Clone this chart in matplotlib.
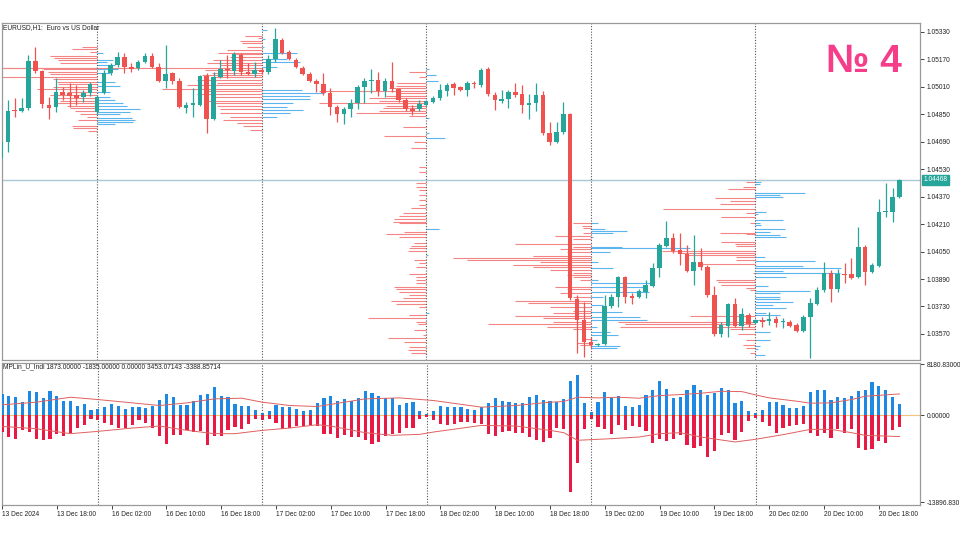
import numpy as np
import matplotlib
matplotlib.use("Agg")
import matplotlib.pyplot as plt
import matplotlib.transforms as mtransforms

plt.rcParams['font.family'] = ['Liberation Sans', 'DejaVu Sans']

# ---- EURUSD H1, 13 Dec 2024 10:00 .. 20 Dec 2024 21:00 (132 bars) ----
opens = [1.04595, 1.04688, 1.04875, 1.04869, 1.04887, 1.05160, 1.05102, 1.04904, 1.04892, 1.04980,
         1.04974, 1.04962, 1.04951, 1.04974, 1.04863, 1.04974, 1.05091, 1.05137, 1.05184, 1.05125,
         1.05120, 1.05155, 1.05190, 1.05125, 1.05044, 1.05091, 1.05044, 1.04887, 1.04904, 1.04904,
         1.05073, 1.04823, 1.05067, 1.05114, 1.05102, 1.05195, 1.05096, 1.05085, 1.05108, 1.05096,
         1.05172, 1.05283, 1.05213, 1.05166, 1.05120, 1.05085, 1.05044, 1.05026, 1.04974, 1.04892,
         1.04852, 1.04881, 1.04916, 1.05009, 1.05044, 1.05050, 1.04986, 1.05044, 1.04997, 1.04933,
         1.04881, 1.04881, 1.04904, 1.04921, 1.04945, 1.04986, 1.05026, 1.05009, 1.04991, 1.05032,
         1.05021, 1.05114, 1.04962, 1.04927, 1.04939, 1.04980, 1.04968, 1.04904, 1.04916, 1.04962,
         1.04741, 1.04688, 1.04747, 1.04852, 1.03773, 1.03651, 1.03523, 1.03505, 1.03511, 1.03733,
         1.03785, 1.03902, 1.03791, 1.03785, 1.03814, 1.03849, 1.03954, 1.04082, 1.04129, 1.04059,
         1.04036, 1.03937, 1.03989, 1.03960, 1.03797, 1.03570, 1.03616, 1.03744, 1.03616, 1.03680,
         1.03634, 1.03651, 1.03645, 1.03657, 1.03640, 1.03640, 1.03622, 1.03587, 1.03669, 1.03744,
         1.03826, 1.03925, 1.03832, 1.03919, 1.03919, 1.03902, 1.04076, 1.03931, 1.03966, 1.04280,
         1.04280, 1.04368]
highs = [1.04741, 1.04933, 1.04945, 1.04945, 1.05195, 1.05242, 1.05108, 1.04951, 1.05061, 1.05009,
         1.05032, 1.05021, 1.04991, 1.05038, 1.04962, 1.05108, 1.05149, 1.05213, 1.05207, 1.05149,
         1.05166, 1.05207, 1.05207, 1.05149, 1.05254, 1.05096, 1.05061, 1.04921, 1.05003, 1.05079,
         1.05091, 1.05096, 1.05166, 1.05195, 1.05213, 1.05207, 1.05149, 1.05155, 1.05120, 1.05195,
         1.05353, 1.05295, 1.05225, 1.05178, 1.05131, 1.05096, 1.05056, 1.05091, 1.05003, 1.04904,
         1.04892, 1.04939, 1.05021, 1.05061, 1.05114, 1.05096, 1.05061, 1.05155, 1.05003, 1.04945,
         1.04904, 1.04933, 1.04933, 1.04957, 1.05026, 1.05032, 1.05038, 1.05015, 1.05044, 1.05044,
         1.05120, 1.05125, 1.04980, 1.04991, 1.04991, 1.05032, 1.05021, 1.04968, 1.05032, 1.04986,
         1.04805, 1.04805, 1.04921, 1.04857, 1.03797, 1.03756, 1.03552, 1.03517, 1.03797, 1.03803,
         1.03907, 1.03907, 1.03808, 1.03832, 1.03884, 1.03983, 1.04100, 1.04228, 1.04158, 1.04158,
         1.04088, 1.04146, 1.04071, 1.03972, 1.03849, 1.03640, 1.03750, 1.03779, 1.03721, 1.03692,
         1.03657, 1.03669, 1.03698, 1.03674, 1.03663, 1.03651, 1.03634, 1.03680, 1.03779, 1.03843,
         1.03989, 1.03942, 1.03948, 1.03983, 1.04012, 1.04193, 1.04088, 1.03983, 1.04356, 1.04449,
         1.04420, 1.04470]
lows = [1.04584, 1.04630, 1.04834, 1.04863, 1.04875, 1.05091, 1.04887, 1.04823, 1.04863, 1.04933,
        1.04892, 1.04904, 1.04921, 1.04957, 1.04852, 1.04968, 1.05079, 1.05125, 1.05091, 1.05096,
        1.05108, 1.05149, 1.05120, 1.05038, 1.05003, 1.05026, 1.04887, 1.04857, 1.04834, 1.04898,
        1.04741, 1.04817, 1.05061, 1.05061, 1.05079, 1.05079, 1.05079, 1.05067, 1.05085, 1.05085,
        1.05155, 1.05201, 1.05166, 1.05120, 1.05079, 1.05038, 1.04980, 1.04962, 1.04846, 1.04805,
        1.04793, 1.04834, 1.04881, 1.04916, 1.04974, 1.04957, 1.04951, 1.04980, 1.04921, 1.04869,
        1.04846, 1.04869, 1.04898, 1.04916, 1.04933, 1.04957, 1.04962, 1.04986, 1.04957, 1.05003,
        1.05009, 1.04957, 1.04875, 1.04916, 1.04887, 1.04951, 1.04857, 1.04823, 1.04869, 1.04729,
        1.04671, 1.04683, 1.04735, 1.03768, 1.03459, 1.03436, 1.03488, 1.03500, 1.03505, 1.03721,
        1.03727, 1.03750, 1.03744, 1.03779, 1.03779, 1.03843, 1.03902, 1.04076, 1.04041, 1.03972,
        1.03931, 1.03855, 1.03942, 1.03785, 1.03558, 1.03552, 1.03552, 1.03610, 1.03593, 1.03610,
        1.03628, 1.03610, 1.03622, 1.03610, 1.03605, 1.03610, 1.03581, 1.03581, 1.03430, 1.03738,
        1.03814, 1.03756, 1.03814, 1.03867, 1.03890, 1.03896, 1.03855, 1.03925, 1.03960, 1.04251,
        1.04222, 1.04362]
closes = [1.04688, 1.04869, 1.04869, 1.04887, 1.05160, 1.05102, 1.04910, 1.04887, 1.04980, 1.04962,
          1.04957, 1.04945, 1.04974, 1.05026, 1.04951, 1.05091, 1.05137, 1.05184, 1.05125, 1.05114,
          1.05155, 1.05190, 1.05125, 1.05044, 1.05085, 1.05044, 1.04892, 1.04904, 1.04916, 1.05073,
          1.04823, 1.05067, 1.05114, 1.05108, 1.05201, 1.05096, 1.05085, 1.05108, 1.05096, 1.05172,
          1.05289, 1.05207, 1.05172, 1.05125, 1.05085, 1.05044, 1.05026, 1.04974, 1.04892, 1.04852,
          1.04881, 1.04916, 1.05009, 1.05044, 1.05050, 1.04986, 1.05044, 1.04997, 1.04933, 1.04881,
          1.04869, 1.04910, 1.04927, 1.04945, 1.04991, 1.05021, 1.05003, 1.04991, 1.05032, 1.05026,
          1.05108, 1.04968, 1.04933, 1.04939, 1.04980, 1.04962, 1.04904, 1.04916, 1.04962, 1.04741,
          1.04688, 1.04747, 1.04852, 1.03779, 1.03651, 1.03523, 1.03505, 1.03511, 1.03733, 1.03785,
          1.03902, 1.03785, 1.03779, 1.03820, 1.03855, 1.03954, 1.04088, 1.04129, 1.04053, 1.04036,
          1.03937, 1.03989, 1.03960, 1.03797, 1.03570, 1.03622, 1.03744, 1.03616, 1.03686, 1.03628,
          1.03651, 1.03640, 1.03657, 1.03634, 1.03645, 1.03616, 1.03587, 1.03669, 1.03750, 1.03826,
          1.03925, 1.03832, 1.03919, 1.03913, 1.03896, 1.04076, 1.03931, 1.03972, 1.04280, 1.04286,
          1.04368, 1.04468]
last_price = 1.04468

# day starts (bar index): 16, 17, 18, 19, 20 Dec 00:00
day_starts = [14, 38, 62, 86, 110]

# time axis labels every 8 bars
time_labels = ["13 Dec 2024", "13 Dec 18:00", "16 Dec 02:00", "16 Dec 10:00", "16 Dec 18:00",
               "17 Dec 02:00", "17 Dec 10:00", "17 Dec 18:00", "18 Dec 02:00", "18 Dec 10:00",
               "18 Dec 18:00", "19 Dec 02:00", "19 Dec 10:00", "19 Dec 18:00", "20 Dec 02:00",
               "20 Dec 10:00", "20 Dec 18:00"]
price_ticks = [1.05330, 1.05170, 1.05010, 1.04850, 1.04690, 1.04530, 1.04370,
               1.04210, 1.04050, 1.03890, 1.03730, 1.03570]

# ---- volume profiles at each day start: sell (red, drawn left) / buy (blue, drawn right) ----
r_lv_1 = [1.05242, 1.05230, 1.05213, 1.05190, 1.05178, 1.05166, 1.05149, 1.05120, 1.05114, 1.05096,
          1.05085, 1.05067, 1.05056, 1.05038, 1.05026, 1.05009, 1.04997, 1.04980, 1.04962, 1.04945,
          1.04927, 1.04916, 1.04898, 1.04887, 1.04869, 1.04852, 1.04834, 1.04817, 1.04782, 1.04770, 1.04753]
r_vol_1 = [15, 25, 7, 47, 43, 39, 37, 110, 54, 49, 47, 110, 44, 40, 39, 44, 60, 30, 47, 44,
           37, 40, 30, 27, 22, 17, 10, 19, 25, 24, 9]
b_lv_1 = [1.05207, 1.05166, 1.05155, 1.05137, 1.05114, 1.05091, 1.05038, 1.05015, 1.04980, 1.04951,
          1.04933, 1.04916, 1.04898, 1.04881, 1.04863, 1.04852, 1.04828, 1.04817, 1.04805, 1.04793]
b_vol_1 = [6, 16, 10, 18, 21, 13, 18, 23, 13, 13, 18, 26, 30, 43, 33, 23, 35, 38, 36, 18]

r_lv_2 = [1.05306, 1.05295, 1.05277, 1.05265, 1.05242, 1.05225, 1.05207, 1.05201, 1.05184, 1.05166,
          1.05149, 1.05137, 1.05120, 1.05108, 1.05091, 1.05079, 1.05067, 1.05050, 1.05032, 1.05021,
          1.04997, 1.04986, 1.04968, 1.04951, 1.04927, 1.04916, 1.04898, 1.04881, 1.04857, 1.04834,
          1.04817, 1.04799, 1.04782, 1.04758]
r_vol_2 = [17, 4, 22, 20, 15, 35, 44, 29, 32, 49, 55, 42, 262, 57, 50, 60, 49, 65, 45, 75,
           100, 55, 65, 49, 55, 50, 45, 42, 42, 32, 39, 25, 19, 12]
b_lv_2 = [1.05341, 1.05289, 1.05242, 1.05207, 1.05172, 1.05155, 1.05125, 1.04991, 1.04974, 1.04957,
          1.04939, 1.04916, 1.04892, 1.04875, 1.04857, 1.04834]
b_vol_2 = [5, 3, 2, 35, 25, 38, 15, 40, 62, 48, 48, 31, 25, 41, 28, 15]

r_lv_3 = [1.05096, 1.05067, 1.05032, 1.05015, 1.05003, 1.04986, 1.04974, 1.04957, 1.04945, 1.04927,
          1.04916, 1.04898, 1.04887, 1.04869, 1.04857, 1.04840, 1.04776, 1.04723, 1.04688, 1.04653,
          1.04543, 1.04514, 1.04449, 1.04426, 1.04409, 1.04380, 1.04350, 1.04321, 1.04304, 1.04275,
          1.04257, 1.04240, 1.04222, 1.04216, 1.04164, 1.04152, 1.04135, 1.04100, 1.04082, 1.04071,
          1.04053, 1.04001, 1.03983, 1.03960, 1.03919, 1.03902, 1.03884, 1.03867, 1.03843, 1.03832,
          1.03814, 1.03797, 1.03779, 1.03762, 1.03744, 1.03727, 1.03680, 1.03663, 1.03640, 1.03628,
          1.03593, 1.03564, 1.03546, 1.03523, 1.03494, 1.03476, 1.03459]
r_vol_3 = [17, 7, 29, 30, 37, 107, 30, 40, 57, 47, 107, 40, 43, 47, 70, 17, 23, 42, 12, 15,
           7, 7, 10, 10, 7, 7, 7, 7, 15, 23, 27, 32, 33, 27, 22, 40, 27, 12, 15, 17,
           18, 12, 7, 10, 17, 10, 10, 10, 32, 30, 27, 17, 23, 35, 30, 7, 17, 58, 10, 8,
           12, 3, 38, 22, 17, 18, 15]
b_lv_3 = [1.05114, 1.05079, 1.05044, 1.04828, 1.04741, 1.04712, 1.04181, 1.04030, 1.03692]
b_vol_3 = [3, 10, 12, 3, 3, 19, 13, 2, 3]

r_lv_4 = [1.04216, 1.04199, 1.04187, 1.04158, 1.04141, 1.04123, 1.04094, 1.04076, 1.04065, 1.04047,
          1.04024, 1.04012, 1.04001, 1.03989, 1.03972, 1.03960, 1.03942, 1.03925, 1.03913, 1.03902,
          1.03884, 1.03843, 1.03832, 1.03808, 1.03785, 1.03762, 1.03750, 1.03727, 1.03704, 1.03692,
          1.03674, 1.03663, 1.03640, 1.03628, 1.03610, 1.03599, 1.03540, 1.03517, 1.03505]
r_vol_4 = [18, 9, 8, 8, 36, 18, 76, 18, 31, 24, 58, 138, 124, 51, 78, 58, 41, 18, 24, 18,
           11, 36, 24, 31, 18, 76, 63, 41, 18, 38, 76, 48, 38, 103, 44, 18, 8, 14, 11]
b_lv_4 = [1.04216, 1.04181, 1.04170, 1.04158, 1.04135, 1.04076, 1.04071, 1.04047, 1.03989, 1.03954,
          1.03884, 1.03867, 1.03843, 1.03814, 1.03785, 1.03738, 1.03698, 1.03669, 1.03651, 1.03610,
          1.03581, 1.03564, 1.03534, 1.03500, 1.03488]
b_vol_4 = [7, 14, 36, 22, 2, 31, 99, 19, 7, 22, 7, 60, 52, 58, 12, 12, 31, 49, 56, 6,
           19, 27, 6, 29, 26]

r_lv_5 = [1.04455, 1.04426, 1.04415, 1.04362, 1.04345, 1.04327, 1.04298, 1.04275, 1.04251, 1.04216,
          1.04158, 1.04152, 1.04106, 1.04094, 1.04082, 1.04053, 1.04041, 1.04030, 1.04018, 1.04001,
          1.03977, 1.03925, 1.03884, 1.03872, 1.03855, 1.03838, 1.03826, 1.03674, 1.03640, 1.03628,
          1.03610, 1.03599, 1.03570, 1.03534, 1.03505, 1.03488, 1.03459]
r_vol_5 = [9, 12, 27, 40, 25, 35, 92, 9, 34, 5, 35, 9, 34, 20, 19, 93, 75, 69, 19, 19,
           55, 2, 39, 37, 34, 9, 5, 65, 137, 130, 135, 25, 17, 9, 12, 9, 5]
b_lv_5 = [1.04455, 1.04444, 1.04391, 1.04380, 1.04368, 1.04280, 1.04269, 1.04234, 1.04216, 1.04205,
          1.04181, 1.04164, 1.04146, 1.04135, 1.04018, 1.03995, 1.03966, 1.03954, 1.03937, 1.03925,
          1.03902, 1.03849, 1.03820, 1.03808, 1.03785, 1.03773, 1.03756, 1.03738, 1.03721, 1.03692,
          1.03680, 1.03651, 1.03581, 1.03534, 1.03500, 1.03482, 1.03447]
b_vol_5 = [6, 5, 50, 25, 28, 11, 3, 28, 5, 6, 30, 15, 25, 31, 10, 60, 48, 86, 28, 85,
           31, 13, 55, 25, 25, 25, 38, 18, 31, 11, 25, 11, 15, 15, 5, 3, 10]

profiles = [(r_lv_1, r_vol_1, b_lv_1, b_vol_1), (r_lv_2, r_vol_2, b_lv_2, b_vol_2),
            (r_lv_3, r_vol_3, b_lv_3, b_vol_3), (r_lv_4, r_vol_4, b_lv_4, b_vol_4),
            (r_lv_5, r_vol_5, b_lv_5, b_vol_5)]
VOL_TO_BARS = 1 / 6.86

# ---- MPLin_U_Indi: buy / sell histogram and bands ----
ind_pos = [3458, 3192, 3032, 2128, 3990, 3724, 2820, 3990, 3086, 2394,
           2394, 1596, 1862, 798, 1064, 1330, 1862, 1490, 1064, 1330,
           1330, 1224, 1596, 2500, 3458, 2926, 1756, 1756, 2394, 3298,
           3458, 4522, 3086, 2926, 1862, 1490, 1490, 798, 426, 692,
           1756, 1436, 1330, 1064, 692, 904, 2022, 2820, 3192, 2288,
           2660, 2394, 2820, 3990, 3564, 3192, 2820, 2820, 1756, 2022,
           2128, 638, 266, 638, 1596, 1436, 1436, 1330, 958, 798,
           1330, 1968, 2820, 2394, 2234, 2022, 2022, 2926, 3352, 2500,
           2394, 2128, 2660, 5586, 6544, 2022, 532, 2234, 3830, 2766,
           3086, 1596, 1436, 1756, 3352, 4150, 5586, 4256, 2820, 3032,
           4150, 4894, 4150, 3298, 3618, 4416, 4096, 2022, 2394, 692,
           372, 798, 2128, 2128, 1756, 1170, 1170, 1490, 3830, 4096,
           4096, 2554, 3032, 2766, 3086, 3990, 4150, 5320, 4788, 4150,
           2926, 1873]
ind_neg = [-2660, -3458, -3724, -2394, -2660, -3830, -3990, -3724, -2926, -3298,
           -2766, -1968, -1490, -532, -798, -1224, -1490, -2022, -2022, -1596,
           -798, -1224, -2022, -3298, -4522, -3192, -3086, -2394, -2660, -2554,
           -4788, -3352, -3352, -2394, -1862, -2128, -1330, -638, -798, -532,
           -1224, -2234, -2022, -1756, -1702, -1596, -1756, -2926, -3032, -3618,
           -3192, -3458, -3458, -3990, -4522, -4256, -3298, -2926, -2766, -2022,
           -2022, -638, -266, -798, -1330, -1490, -1330, -1064, -1064, -1224,
           -1436, -2926, -3352, -2660, -2554, -2766, -2820, -3458, -3990, -4256,
           -3564, -2022, -2234, -12342, -7714, -2234, -532, -1862, -2234, -2926,
           -1490, -2394, -1702, -1862, -2500, -4416, -3724, -4096, -3724, -3192,
           -4788, -5160, -4894, -6650, -5746, -3192, -2820, -3990, -2660, -904,
           -426, -1064, -1756, -2766, -1968, -1756, -1490, -1383, -2820, -3352,
           -2820, -3618, -2234, -2766, -2234, -5160, -5480, -5426, -4096, -4362,
           -2394, -1835]
band_bar = [0, 5, 10, 14, 18, 23, 27, 31, 35, 38, 42, 46, 50, 53, 58, 63, 70, 75, 80, 82,
            84, 87, 90, 93, 96, 99, 102, 105, 108, 110, 112, 116, 118, 121, 124, 126, 131]
band_up = [1702, 2128, 2926, 2554, 2128, 1596, 2022, 2660, 2766, 2128, 1596, 1436, 2128, 2660,
           2820, 2394, 1330, 1596, 2128, 2234, 2926, 2820, 2926, 2766, 3192, 3352, 3564, 3884,
           3830, 3298, 2820, 2288, 1968, 2022, 2554, 3086, 3453]
band_lo_bar = [0, 5, 10, 14, 19, 23, 27, 31, 34, 38, 42, 46, 48, 53, 57, 61, 63, 70, 75, 80,
               82, 84, 89, 93, 96, 99, 102, 107, 110, 114, 118, 121, 124, 126, 131]
band_lo = [-1756, -2128, -2926, -2554, -2022, -1702, -2394, -2926, -2926, -2394, -2022, -1490,
           -1702, -2766, -3192, -3032, -2660, -1596, -1702, -2394, -2766, -3990, -3724, -3458,
           -2926, -2766, -3458, -4256, -3830, -3086, -2234, -2234, -2766, -3192, -3389]
ind_top, ind_bottom = 8180.83, -13896.83

GREEN = '#26a69a'
RED = '#ef5350'

fig = plt.figure(figsize=(9.6, 5.4), dpi=100)
ax = fig.add_axes([2 / 960, 1 - 360 / 540, 918 / 960, 337 / 540])
ax2 = fig.add_axes([2 / 960, 1 - 505 / 540, 918 / 960, 142 / 540])

n = len(opens)
x = np.arange(n)
o = np.array(opens); h = np.array(highs); l = np.array(lows); c = np.array(closes)
up = c >= o
cols = np.where(up, GREEN, RED)

# profiles first so candles sit on top
for k, (rl, rv, bl, bv) in enumerate(profiles):
    s = day_starts[k]
    ax.hlines(rl, s - np.array(rv) * VOL_TO_BARS, s, color='#f38585', lw=0.8, zorder=1)
    ax.hlines(bl, s, s + np.array(bv) * VOL_TO_BARS, color='#5cb6ee', lw=0.8, zorder=1)

ax.axhline(last_price, color='#a9c9d6', lw=1.0, zorder=2)

ax.vlines(x, l, h, color=cols, lw=0.9, zorder=3)
body_lo = np.minimum(o, c)
body_h = np.maximum(np.abs(c - o), 0.000018)
ax.bar(x, body_h, bottom=body_lo, width=0.66, color=cols, lw=0, zorder=4)

for s in day_starts:
    ax.axvline(s, color='#555555', lw=0.8, ls=(0, (1, 1.5)), zorder=2)
    ax2.axvline(s, color='#555555', lw=0.8, ls=(0, (1, 1.5)), zorder=2)

ax.set_xlim(0.15, 134.0)
ax.set_ylim(1.03418, 1.05382)
ax.yaxis.tick_right()
ax.set_yticks(price_ticks)
ax.set_yticklabels(['%.5f' % p for p in price_ticks])
ax.tick_params(axis='y', length=3, width=0.6, pad=2, labelsize=4.8, colors='#222222')
ax.set_xticks([])

# last price tag
trans = mtransforms.blended_transform_factory(ax.transAxes, ax.transData)
ax.text(1.0035, last_price, '%.5f' % last_price, transform=trans, ha='left', va='center',
        fontsize=4.8, color='white',
        bbox=dict(boxstyle='square,pad=0.25', fc=GREEN, ec=GREEN))

for a in (ax, ax2):
    for sp in a.spines.values():
        sp.set_color('#9a9a9a')
        sp.set_linewidth(0.9)

# indicator panel
ax2.axhline(0, color='#f6c27c', lw=0.8, zorder=1)
ax2.bar(x, ind_pos, width=0.46, color='#1e88e5', lw=0, zorder=3)
ax2.bar(x, ind_neg, width=0.46, color='#e81a45', lw=0, zorder=3)
ax2.plot(band_bar, band_up, color='#e0605f', lw=0.7, zorder=4)
ax2.plot(band_lo_bar, band_lo, color='#e0605f', lw=0.7, zorder=4)
ax2.set_xlim(0.15, 134.0)
ax2.set_ylim(ind_bottom - 480, ind_top + 240)
ax2.yaxis.tick_right()
ax2.set_yticks([ind_top, 0, ind_bottom])
ax2.set_yticklabels(['8180.83000', '0.00000', '-13896.830'])
ax2.tick_params(axis='y', length=3, width=0.6, pad=2, labelsize=4.8, colors='#222222')
ax2.set_xticks(np.arange(0, 8 * len(time_labels), 8))
ax2.set_xticklabels(time_labels, ha='left')
ax2.tick_params(axis='x', length=3, width=0.6, pad=1.5, labelsize=4.8, colors='#222222')

fig.text(3 / 960, 1 - 28 / 540, 'EURUSD,H1:  Euro vs US Dollar', fontsize=4.8, color='#222222',
         ha='left', va='center')
fig.text(3 / 960, 1 - 367 / 540,
         'MPLin_U_Indi 1873.00000 -1835.00000 0.00000 3453.07143 -3388.85714',
         fontsize=4.8, color='#222222', ha='left', va='center')
fig.text(864 / 960, 1 - 62 / 540, '№ 4', fontsize=28, fontweight='bold', color='#f53d8a',
         ha='center', va='center')

fig.savefig('out.png', dpi=100)
